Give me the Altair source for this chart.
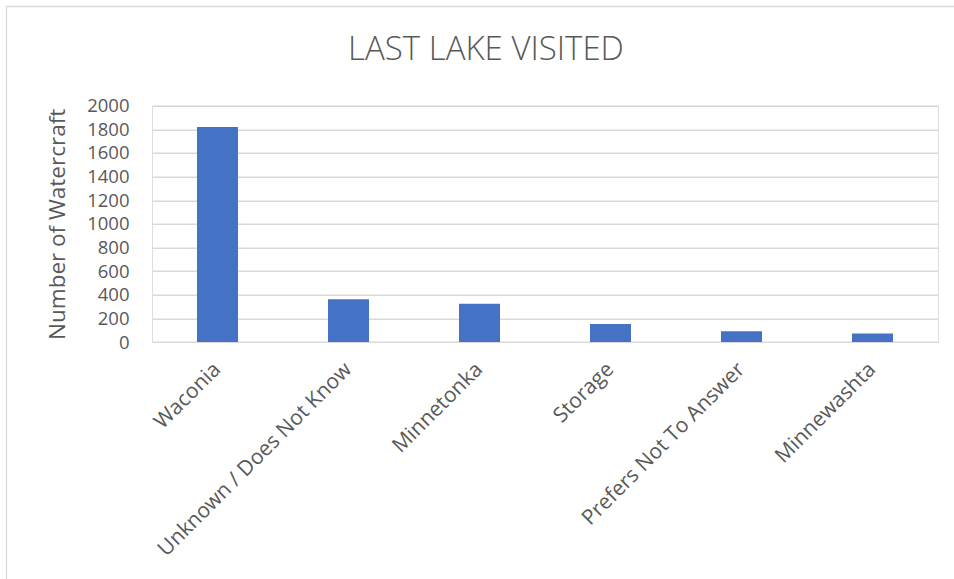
import altair as alt
import pandas as pd

categories = ["Waconia", "Unknown / Does Not Know", "Minnetonka", "Storage",
              "Prefers Not To Answer", "Minnewashta"]
counts = [1820, 361, 324, 152, 90, 73]
y_ticks = [0, 200, 400, 600, 800, 1000, 1200, 1400, 1600, 1800, 2000]

df = pd.DataFrame({"lake": categories, "count": counts})

FONT = "Open Sans"
TEXT = "#595959"
GRID = "#D9D9D9"

bars = alt.Chart(df).mark_bar(color="#4472C4").encode(
    x=alt.X("lake:N", sort=categories,
            scale=alt.Scale(paddingInner=0.687, paddingOuter=0.3435),
            axis=alt.Axis(title=None, labelAngle=-45, labelAlign="right",
                          labelBaseline="middle", labelFontSize=21,
                          labelColor=TEXT, labelFont=FONT, domain=False,
                          ticks=False, labelPadding=24, grid=False,
                          labelOverlap=False, labelLimit=400)),
    y=alt.Y("count:Q", scale=alt.Scale(domain=[0, 2000], nice=False),
            axis=alt.Axis(values=y_ticks, format="d", title="Number of Watercraft",
                          titleFontSize=22.5, titleFont=FONT, titleColor=TEXT,
                          titleFontWeight="normal", labelFontSize=18.5,
                          labelFont=FONT, labelColor=TEXT, domain=False,
                          ticks=False, labelPadding=23, gridColor=GRID,
                          gridWidth=1.5, titlePadding=17)),
)

frame = alt.Chart(pd.DataFrame({"f": [0]})).mark_rect(
    fill="white", fillOpacity=0, stroke=GRID, strokeWidth=1.3
).encode(
    x=alt.value(-145.5), x2=alt.value(810),
    y=alt.value(-99.2), y2=alt.value(480),
)

chart = alt.layer(frame, bars).properties(
    width=786, height=236.3,
    title=alt.TitleParams("LAST LAKE VISITED", fontSize=33, font=FONT,
                          fontWeight=300, color=TEXT, baseline="alphabetic",
                          offset=-87, dx=-59),
    autosize=alt.AutoSizeParams(type="none"),
    padding={"left": 152, "top": 105.7, "right": 16, "bottom": 237},
).configure_view(stroke=None).configure(background="white")

chart.save("out.html", embed_options={"renderer": "svg", "actions": False})
